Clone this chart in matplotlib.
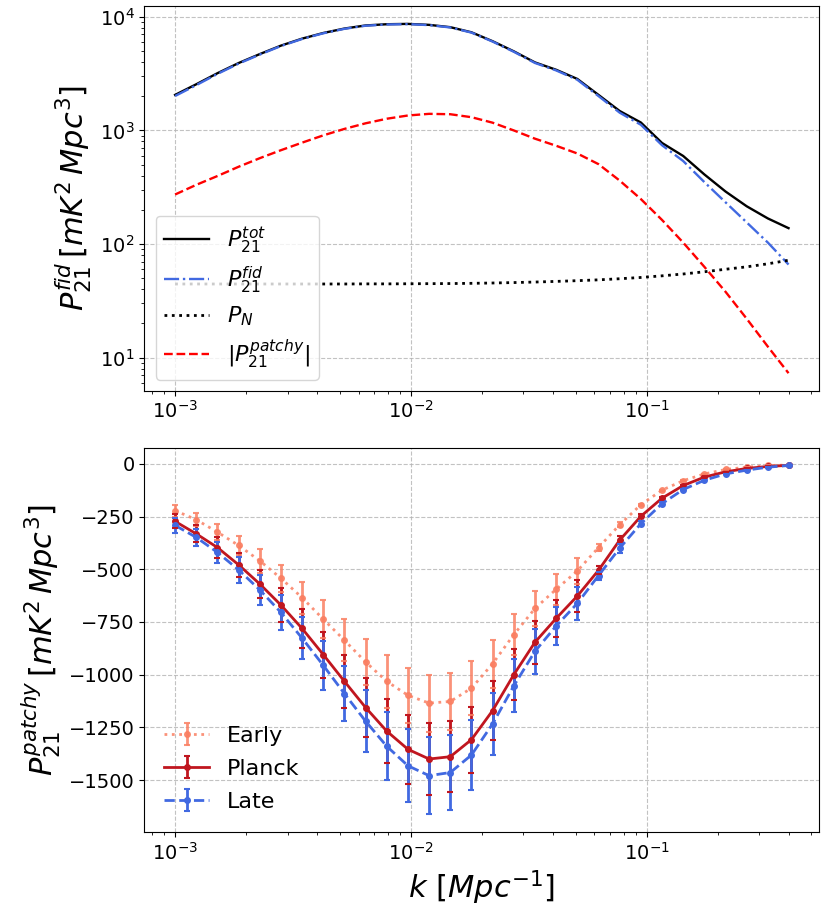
import numpy as np
import matplotlib
matplotlib.use("Agg")
import matplotlib.pyplot as plt

# wavenumbers [Mpc^-1]
k = [0.001000, 0.0012297, 0.0015122, 0.0018595, 0.0022867, 0.0028119, 0.0034578,
     0.0042521, 0.0052289, 0.0064300, 0.0079071, 0.009722, 0.011955, 0.014701,
     0.018078, 0.022231, 0.027338, 0.033618, 0.041341, 0.050837, 0.062515,
     0.076875, 0.094535, 0.11625, 0.14296, 0.17580, 0.21618, 0.26584, 0.32690, 0.40]

# top panel
p_tot = [2055, 2550, 3190, 3920, 4700, 5580, 6430, 7210, 7890, 8400, 8610, 8670, 8500,
         8110, 7310, 6100, 4970, 3970, 3420, 2840, 2055, 1483, 1175, 776, 596, 410,
         290, 215, 168, 138]
p_fid = [2010, 2505, 3145, 3875, 4655, 5535, 6385, 7165, 7845, 8355, 8565, 8625, 8455,
         8065, 7265, 6055, 4925, 3925, 3375, 2793, 2007, 1434, 1122, 741, 538, 351,
         233, 155, 103, 66]
p_noise = [44.5, 44.5, 44.5, 44.5, 44.5, 44.5, 44.5, 44.5, 44.5, 44.6, 44.6, 44.7, 44.8,
           44.9, 45.1, 45.4, 45.8, 46.3, 46.9, 47.6, 48.4, 49.5, 50.8, 52.5, 54.5, 57,
           60, 63, 67, 72]

# bottom panel
early = [-222, -265, -324, -387, -460, -543, -635, -737, -837, -940, -1032, -1098, -1135,
         -1127, -1064, -948, -810, -686, -595, -508, -397, -289, -194, -125, -80, -48,
         -27, -16, -8, -6]
early_err = [29, 31, 38, 46, 56, 63, 76, 89, 100, 111, 127, 130, 135, 135, 129, 114, 96,
             83, 73, 60, 15, 12, 5, 3, 2, 1, 1, 1, 0.5, 0.5]
planck = [-273, -332, -397, -479, -570, -670, -781, -905, -1032, -1156, -1268, -1354,
          -1400, -1389, -1308, -1170, -1000, -846, -733, -627, -505, -362, -249, -163,
          -103, -63, -38, -22, -12.5, -7.3]
planck_err = [33, 40, 48, 57, 68, 80, 94, 109, 124, 139, 152, 165, 170, 167, 157, 140,
              120, 102, 88, 76, 18, 19, 10, 5, 3, 2, 1, 1, 0.5, 0.5]
late = [-292, -349, -420, -503, -598, -705, -827, -956, -1090, -1221, -1340, -1432,
        -1479, -1464, -1381, -1233, -1053, -889, -769, -662, -530, -400, -284, -189,
        -122, -78, -48, -30, -16, -8]
late_err = [35, 42, 50, 60, 72, 85, 99, 115, 131, 147, 161, 172, 183, 176, 166, 148, 126,
            107, 92, 79, 19, 21, 13, 6, 4, 2, 1, 1, 0.5, 0.5]

fig, (ax1, ax2) = plt.subplots(2, 1, figsize=(8.3, 9.17), dpi=100)
fig.subplots_adjust(left=0.174, right=0.987, top=0.993, bottom=0.093, hspace=0.148)

# ---- top panel
ax1.plot(k, p_tot, color='black', lw=1.7, ls='-', label=r'$P_{21}^{tot}$')
ax1.plot(k, p_fid, color='royalblue', lw=1.7, ls='-.', label=r'$P_{21}^{fid}$')
ax1.plot(k, p_noise, color='black', lw=2.0, ls=':', label=r'$P_{N}$')
ax1.plot(k, np.abs(planck), color='red', lw=1.7, ls='--', label=r'$|P_{21}^{patchy}|$')
ax1.set_xscale('log')
ax1.set_yscale('log')
ax1.set_ylabel(r'$P_{21}^{fid}\,[mK^2\,Mpc^3]$', fontsize=22)
ax1.grid(True, which='major', ls='--', color='0.7', lw=0.8, alpha=0.8)
ax1.legend(loc='lower left', fontsize=16, labelspacing=0.4)

# ---- bottom panel
series = [
    (early, early_err, '#FA7F62', ':', 'Early', 0.85),
    (planck, planck_err, '#C0161F', '-', 'Planck', 1.0),
    (late, late_err, 'royalblue', '--', 'Late', 1.0),
]
for vals, errs, col, ls, lab, a in series:
    cont = ax2.errorbar(k, vals, yerr=errs, color=col, ls=ls, lw=2.0, marker='o',
                        markersize=4, capsize=2.5, elinewidth=2.0, capthick=1.5,
                        alpha=a, label=lab)
    for cap in cont[1]:
        cap.set_zorder(2.5)

ax2.set_xscale('log')
ax2.set_yticks([0, -250, -500, -750, -1000, -1250, -1500])
ax2.set_ylabel(r'$P_{21}^{patchy}\,[mK^2\,Mpc^3]$', fontsize=22)
ax2.set_xlabel(r'$k\ [Mpc^{-1}]$', fontsize=22)
ax2.grid(True, which='major', ls='--', color='0.7', lw=0.8, alpha=0.8)
ax2.legend(loc='lower left', fontsize=16, frameon=False, labelspacing=0.58)

for ax in (ax1, ax2):
    ax.tick_params(axis='both', which='major', labelsize=14)

fig.savefig('out.png', dpi=100)
